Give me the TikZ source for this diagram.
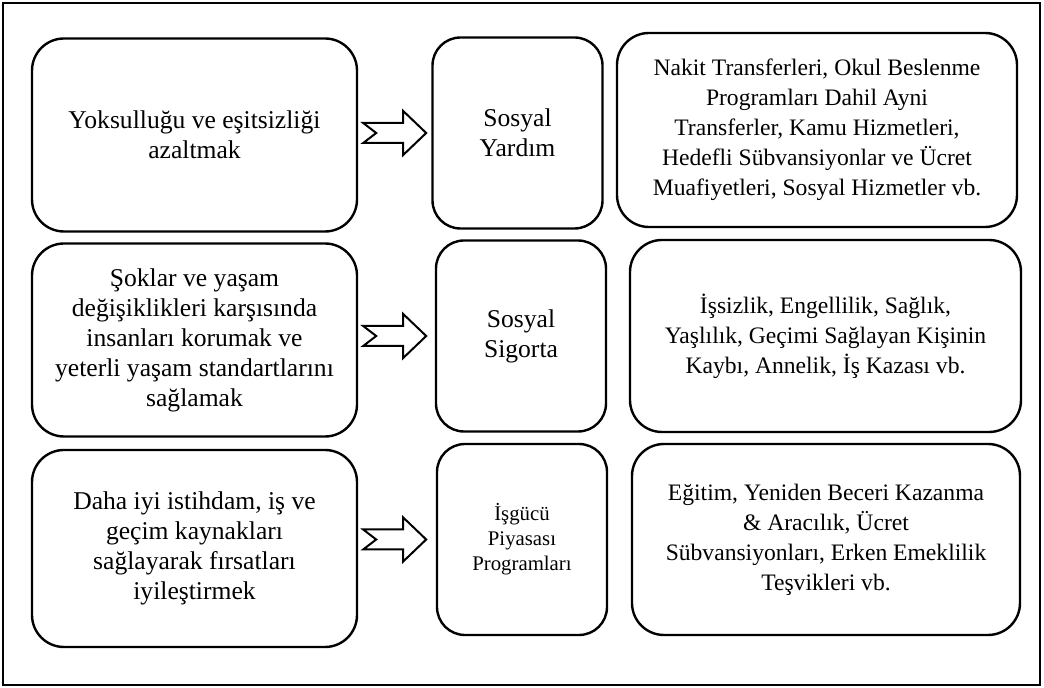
\documentclass[tikz,border=0pt]{standalone}
\usepackage{fontspec}
\setmainfont{Liberation Serif}
\usetikzlibrary{calc}

\begin{document}
\begin{tikzpicture}[x=0.5pt,y=-0.5pt,
  goalbox/.style={rectangle,draw,line width=1.2pt,rounded corners=16pt,align=center,
    minimum width=162.5pt,minimum height=96.5pt,font=\fontsize{12.8}{15}\selectfont},
  typebox/.style={rectangle,draw,line width=1.2pt,rounded corners=14pt,align=center,
    minimum width=85pt,minimum height=95.5pt,font=\fontsize{12.8}{15}\selectfont},
  toolbox/.style={rectangle,draw,line width=1.2pt,rounded corners=16pt,align=center,
    minimum width=196pt,minimum height=96pt,font=\fontsize{11.8}{15}\selectfont},
  hollow/.style={draw,line width=1pt,fill=white,line join=miter}]
\useasboundingbox (0,0) rectangle (1044,688);
\draw[line width=1pt] (3,3) rectangle (1040,685);

\node[goalbox] (goal1) at (194.5,135) {Yoksulluğu ve eşitsizliği\\azaltmak};
\node[goalbox] (goal2) at (194.5,340) {Şoklar ve yaşam\\değişiklikleri karşısında\\insanları korumak ve\\yeterli yaşam standartlarını\\sağlamak};
\node[goalbox,minimum height=98.5pt] (goal3) at (194.5,548.5) {Daha iyi istihdam, iş ve\\geçim kaynakları\\sağlayarak fırsatları\\iyileştirmek};

\node[typebox] (type1) at (517.5,133) {Sosyal\\Yardım};
\node[typebox] (type2) at (521,336) {Sosyal\\Sigorta};
\node[typebox,font=\fontsize{10.4}{12.5}\selectfont] (type3) at (522,539.5) {İşgücü\\Piyasası\\Programları};

\node[toolbox,minimum width=200pt,minimum height=97pt] (tool1) at (817,130) {Nakit Transferleri, Okul Beslenme\\Programları Dahil Ayni\\Transferler, Kamu Hizmetleri,\\Hedefli Sübvansiyonlar ve Ücret\\Muafiyetleri, Sosyal Hizmetler vb.};
\node[toolbox,minimum width=195.5pt] (tool2) at (825.5,336) {İşsizlik, Engellilik, Sağlık,\\Yaşlılık, Geçimi Sağlayan Kişinin\\Kaybı, Annelik, İş Kazası vb.};
\node[toolbox,minimum width=194pt,minimum height=95.5pt] (tool3) at (826,539.5) {Eğitim, Yeniden Beceri Kazanma\\\& Aracılık, Ücret\\Sübvansiyonları, Erken Emeklilik\\Teşvikleri vb.};

% notched block arrows from goal to type
\foreach \r in {1,2,3}
  \draw[hollow] ($(goal\r.east |- type\r.west)+(5,-10)$) -- ++(13,10) -- ++(-13,10)
    -- ++(40,0) -- ++(0,12) -- ++(23,-22) -- ++(-23,-22) -- ++(0,12) -- cycle;
\end{tikzpicture}
\end{document}
